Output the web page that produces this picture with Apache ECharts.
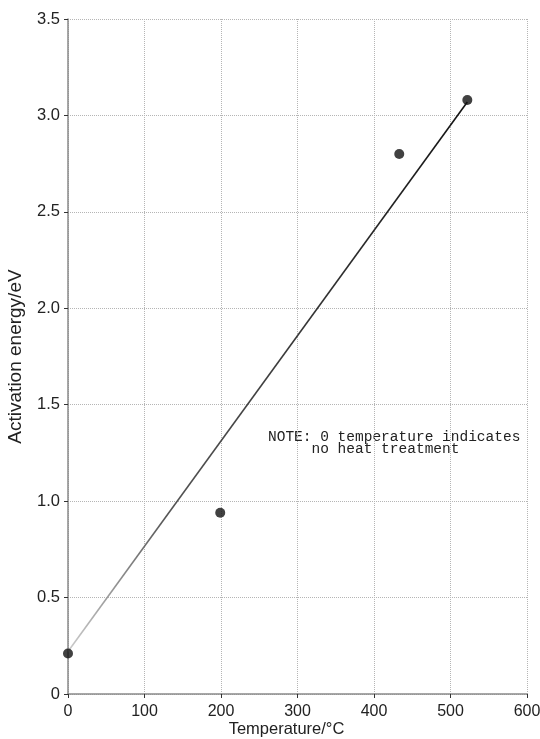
<!DOCTYPE html>
<html>
<head>
<meta charset="utf-8">
<script src="https://cdn.jsdelivr.net/npm/echarts@6/dist/echarts.min.js"></script>
<style>
html,body{margin:0;padding:0;background:#fff;}
#chart{width:540px;height:739px;}
</style>
</head>
<body>
<div id="chart"></div>
<script>
// Measured points
const temperatures = [0, 199, 433, 522];
const activationEnergy = [0.21, 0.94, 2.80, 3.08];
// Fitted line endpoints
const fitTemperatures = [0, 522];
const fitEnergy = [0.22, 3.07];
// Axis ticks
const xTicks = [0, 100, 200, 300, 400, 500, 600];
const yTicks = [0, 0.5, 1.0, 1.5, 2.0, 2.5, 3.0, 3.5];
const noteLines = ['NOTE: 0 temperature indicates', '     no heat treatment'];

const chart = echarts.init(document.getElementById('chart'));
const axisFont = 'Liberation Sans, Arial, sans-serif';

const option = {
  animation: false,
  backgroundColor: '#fff',
  grid: { left: 68, right: 13, top: 19, bottom: 45, containLabel: false, outerBoundsMode: 'none' },
  xAxis: {
    type: 'value',
    min: xTicks[0], max: xTicks[xTicks.length - 1], interval: 100,
    name: 'Temperature/°C', nameLocation: 'middle', nameGap: 27, nameMoveOverlap: false,
    nameTextStyle: { fontFamily: axisFont, fontSize: 16.5, color: '#222', padding: [0, 22, 0, 0] },
    axisLine: { lineStyle: { color: '#8a8a8a', width: 1.5 } },
    axisTick: { show: true, length: 4, lineStyle: { color: '#333' } },
    axisLabel: { fontFamily: axisFont, fontSize: 16, color: '#222', margin: 10 },
    splitLine: { show: true, lineStyle: { color: '#b5b5b5', type: 'dotted', width: 1 } }
  },
  yAxis: {
    type: 'value',
    min: yTicks[0], max: yTicks[yTicks.length - 1], interval: 0.5,
    name: 'Activation energy/eV', nameLocation: 'middle', nameGap: 43, nameRotate: 90,
    nameTextStyle: { fontFamily: axisFont, fontSize: 19, color: '#222' },
    axisLine: { lineStyle: { color: '#8a8a8a', width: 1.5 } },
    axisTick: { show: true, length: 4, lineStyle: { color: '#333' } },
    axisLabel: {
      fontFamily: axisFont, fontSize: 16.5, color: '#222', margin: 8,
      formatter: v => (v === 0 ? '0' : v.toFixed(1))
    },
    splitLine: { show: true, lineStyle: { color: '#b5b5b5', type: 'dotted', width: 1 } }
  },
  series: [
    {
      type: 'line',
      data: fitTemperatures.map((t, i) => [t, fitEnergy[i]]),
      symbol: 'none',
      lineStyle: {
        width: 1.6,
        color: {
          type: 'linear', x: 0, y: 0, x2: 1, y2: 0,
          colorStops: [
            { offset: 0, color: '#cfcfcf' },
            { offset: 0.25, color: '#555' },
            { offset: 1, color: '#111' }
          ]
        }
      },
      z: 2
    },
    {
      type: 'scatter',
      data: temperatures.map((t, i) => [t, activationEnergy[i]]),
      symbol: 'circle',
      symbolSize: 10,
      itemStyle: { color: '#111' },
      z: 3
    }
  ],
  graphic: [
    {
      type: 'text',
      left: 268, top: 430,
      style: {
        text: noteLines.join('\n'),
        font: '14.5px "Liberation Mono", "Courier New", monospace',
        fill: '#222',
        lineHeight: 12
      }
    }
  ]
};
chart.setOption(option);
</script>
</body>
</html>
